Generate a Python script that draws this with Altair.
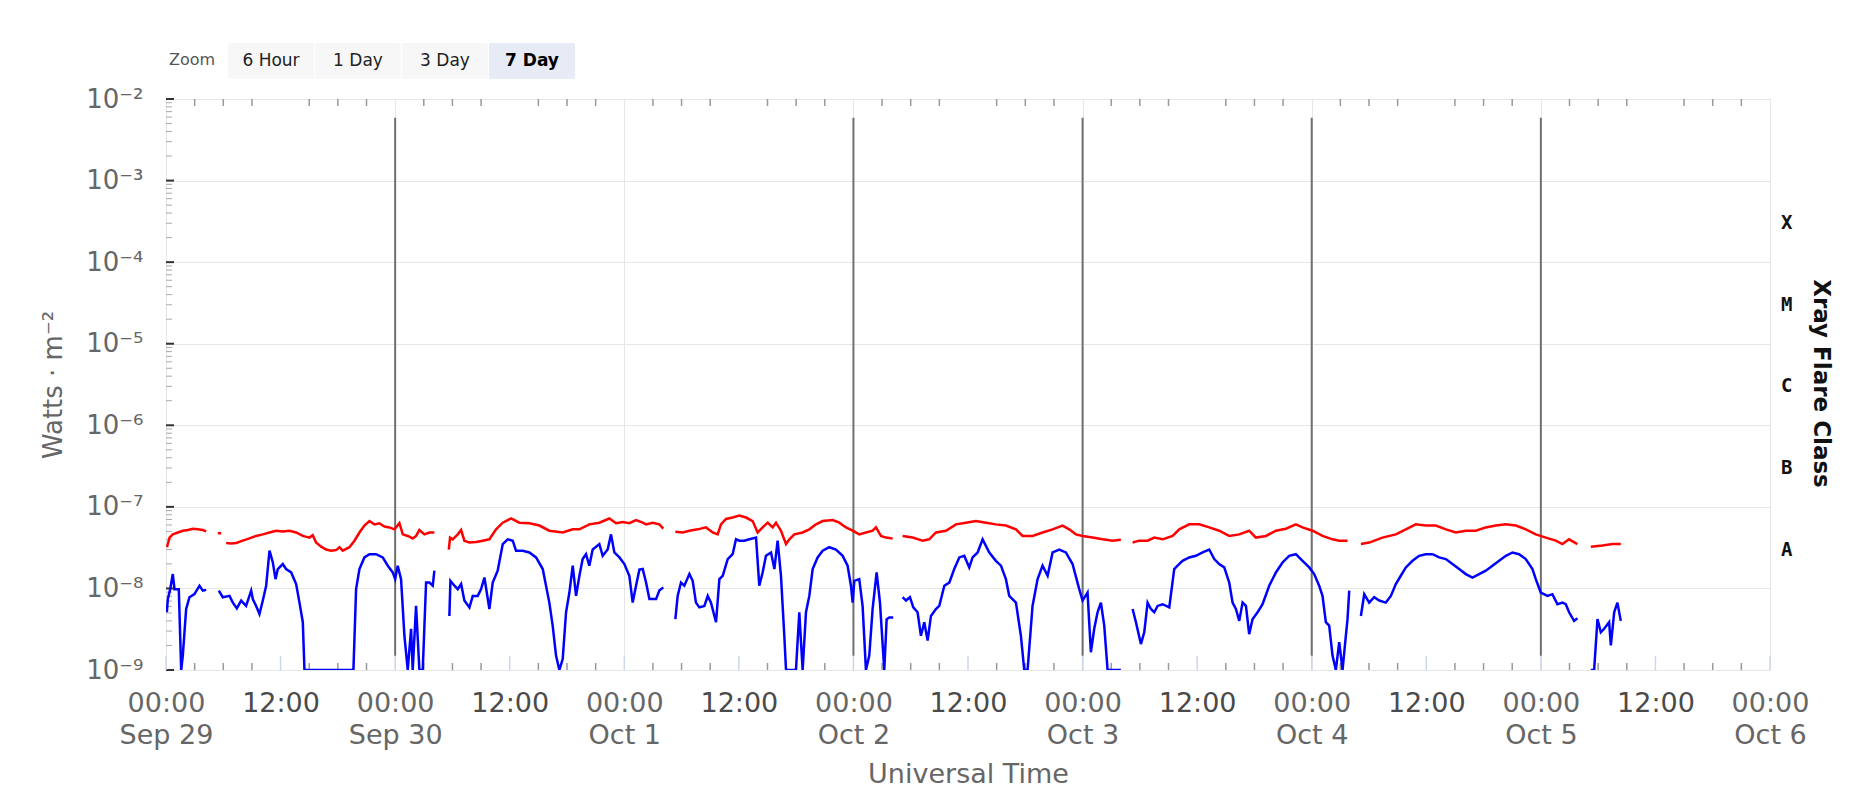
import altair as alt
import pandas as pd

# ---------------- data ----------------
# hours after 2023-09-29 00:00 UTC ; None marks a data gap
RED_HOURS = [0.1, 0.37, 0.71, 1.24, 1.76, 2.29, 2.81, 3.33, 3.86, 4.21, None,
             5.43, 5.78, None,
             6.30, 6.82, 7.35, 8.04, 8.74, 9.44, 10.14, 10.84, 11.54, 12.23, 12.93, 13.63, 14.33, 15.02, 15.37,
             15.72, 16.25, 16.77, 17.29, 17.82, 18.17, 18.51, 19.21, 19.74, 20.26, 20.78, 21.31, 21.83, 22.35,
             22.88, 23.40, 23.93, 24.45, 24.80, 25.32, 25.84, 26.19, 26.54, 27.07, 27.59, 28.11, None,
             29.62, 29.75, 30.03, 30.56, 30.91, 31.25, 31.78, 32.48, 33.17, 33.87, 34.57, 35.27, 36.14, 37.01,
             38.06, 39.11, 40.15, 41.55, 42.60, 43.30, 44.34, 45.39, 46.44, 47.14, 47.84, 48.53, 49.23, 49.93,
             50.28, 50.98, 51.67, 52.09, None,
             53.35, 54.12, 54.82, 55.69, 56.56, 57.26, 57.78, 58.13, 58.65, 59.35, 60.05, 60.75, 61.45, 61.97,
             62.49, 63.02, 63.54, 63.89, 64.41, 64.94, 65.29, 65.81, 66.68, 67.38, 68.08, 68.78, 69.82, 70.52,
             71.22, 71.92, 72.61, 73.31, 74.01, 74.36, 74.88, 75.41, 76.10, None,
             77.15, 78.20, 79.25, 79.94, 80.64, 81.69, 82.74, 83.78, 84.83, 85.88, 86.92, 87.97, 89.02, 89.72,
             90.76, 91.81, 92.86, 93.90, 94.60, 95.30, 96.0, 97.05, 98.09, 99.14, 100.01, None,
             101.24, 101.94, 102.81, 103.51, 104.38, 105.43, 106.13, 107.17, 108.22, 109.27, 110.31, 111.36,
             112.41, 113.45, 114.15, 115.20, 116.25, 117.29, 118.34, 119.04, 120.09, 121.13, 122.18, 122.88,
             123.75, None,
             125.15, 126.02, 127.41, 128.81, 129.86, 130.90, 131.95, 133.0, 134.05, 135.09, 136.14, 137.19,
             138.23, 139.28, 140.33, 141.38, 142.42, 143.47, 144.52, 145.56, 146.26, 146.96, 147.83, None,
             149.23, 150.45, 151.50, 152.37]
RED_FLUX = [3.2e-8, 4.2e-8, 4.6e-8, 4.85e-8, 5.1e-8, 5.2e-8, 5.4e-8, 5.3e-8, 5.2e-8, 5.0e-8, None,
            4.75e-8, 4.75e-8, None,
            3.6e-8, 3.55e-8, 3.6e-8, 3.85e-8, 4.1e-8, 4.4e-8, 4.6e-8, 4.85e-8, 5.1e-8, 5.0e-8, 5.1e-8, 4.85e-8,
            4.4e-8, 4.2e-8, 4.5e-8, 3.65e-8, 3.25e-8, 3.0e-8, 2.9e-8, 2.95e-8, 3.2e-8, 2.9e-8, 3.2e-8, 3.85e-8,
            4.85e-8, 5.9e-8, 6.7e-8, 6.1e-8, 6.3e-8, 5.75e-8, 5.6e-8, 5.3e-8, 6.3e-8, 4.6e-8, 4.4e-8, 4.1e-8,
            4.4e-8, 5.2e-8, 4.6e-8, 4.85e-8, 4.85e-8, None,
            3.0e-8, 4.2e-8, 4.0e-8, 4.6e-8, 5.2e-8, 3.85e-8, 3.65e-8, 3.7e-8, 3.85e-8, 4.0e-8, 5.3e-8, 6.4e-8,
            7.2e-8, 6.4e-8, 6.3e-8, 5.9e-8, 5.1e-8, 4.85e-8, 5.3e-8, 5.3e-8, 6.1e-8, 6.4e-8, 7.2e-8, 6.3e-8,
            6.5e-8, 6.3e-8, 6.9e-8, 6.4e-8, 6.1e-8, 6.4e-8, 6.1e-8, 5.4e-8, None,
            4.95e-8, 4.85e-8, 5.1e-8, 5.3e-8, 5.6e-8, 4.85e-8, 4.6e-8, 6.1e-8, 7.1e-8, 7.4e-8, 7.8e-8, 7.4e-8,
            6.7e-8, 4.85e-8, 5.6e-8, 6.4e-8, 5.6e-8, 6.4e-8, 5.1e-8, 3.5e-8, 4.0e-8, 4.6e-8, 4.85e-8, 5.3e-8,
            6.1e-8, 6.7e-8, 6.9e-8, 6.4e-8, 5.6e-8, 5.1e-8, 4.6e-8, 4.85e-8, 5.1e-8, 5.6e-8, 4.4e-8, 4.2e-8,
            4.1e-8, None,
            4.4e-8, 4.2e-8, 3.85e-8, 4.0e-8, 4.85e-8, 5.1e-8, 6.1e-8, 6.4e-8, 6.7e-8, 6.4e-8, 6.1e-8, 5.9e-8,
            5.3e-8, 4.4e-8, 4.4e-8, 4.85e-8, 5.3e-8, 5.9e-8, 5.3e-8, 4.6e-8, 4.4e-8, 4.2e-8, 4.0e-8, 3.85e-8,
            3.95e-8, None,
            3.65e-8, 3.85e-8, 3.85e-8, 4.2e-8, 4.0e-8, 4.4e-8, 5.3e-8, 6.1e-8, 6.1e-8, 5.6e-8, 5.1e-8, 4.4e-8,
            4.6e-8, 5.1e-8, 4.2e-8, 4.4e-8, 5.1e-8, 5.4e-8, 6.1e-8, 5.6e-8, 5.1e-8, 4.4e-8, 4.0e-8, 3.85e-8,
            3.85e-8, None,
            3.5e-8, 3.65e-8, 4.2e-8, 4.6e-8, 5.3e-8, 6.1e-8, 5.9e-8, 5.9e-8, 5.3e-8, 4.85e-8, 5.1e-8, 5.1e-8,
            5.6e-8, 5.9e-8, 6.1e-8, 5.9e-8, 5.3e-8, 4.6e-8, 4.2e-8, 3.85e-8, 3.5e-8, 4.0e-8, 3.5e-8, None,
            3.25e-8, 3.35e-8, 3.5e-8, 3.5e-8]

BLUE_HOURS = [0.09, 0.19, 0.44, 0.71, 0.89, 1.34, 1.59, 1.76, 2.11, 2.46, 2.98, 3.51, 3.86, 4.21, None,
              5.53, 5.95, 6.65, 7.0, 7.42, 7.87, 8.39, 8.92, 9.09, 9.44, 9.79, 10.14, 10.49, 10.84, 11.19,
              11.47, 11.71, 12.23, 12.58, 13.11, 13.63, 13.98, 14.33, 14.50, 19.63, 19.91, 20.26, 20.78, 21.31,
              22.0, 22.70, 23.23, 23.75, 24.0, 24.27, 24.62, 24.97, 25.32, 25.67, 25.84, 26.19, 26.54, 26.89,
              27.24, 27.59, 27.94, 28.11, None,
              29.68, 29.79, 30.21, 30.56, 30.91, 31.25, 31.78, 32.13, 32.65, 33.0, 33.35, 33.87, 34.22, 34.74,
              35.27, 35.79, 36.32, 36.66, 37.36, 38.06, 38.76, 39.46, 40.15, 40.50, 40.85, 41.20, 41.55, 41.90,
              42.25, 42.60, 42.95, 43.30, 43.64, 43.99, 44.34, 44.69, 45.39, 45.74, 46.26, 46.61, 46.96, 47.49,
              48.01, 48.53, 48.88, 49.23, 49.58, 49.93, 50.28, 50.63, 51.33, 51.67, 52.09, None,
              53.35, 53.59, 53.94, 54.29, 54.82, 55.16, 55.51, 55.86, 56.39, 56.74, 57.08, 57.61, 57.96, 58.31,
              58.83, 59.35, 59.70, 60.05, 60.57, 61.10, 61.80, 62.14, 62.49, 62.84, 63.37, 63.72, 64.06, 64.41,
              64.76, 64.94, 65.98, 66.33, 66.68, 67.03, 67.38, 67.73, 68.25, 68.78, 69.47, 70.17, 70.87, 71.39,
              71.74, 71.92, 72.09, 72.61, 72.96, 73.31, 73.66, 74.01, 74.43, 74.78, 75.23, 75.48, 75.76, 76.17,
              None,
              77.15, 77.50, 77.92, 78.27, 78.72, 79.07, 79.42, 79.77, 80.12, 80.64, 80.99, 81.52, 82.04, 82.56,
              83.09, 83.61, 84.13, 84.48, 85.01, 85.53, 86.23, 86.92, 87.45, 87.97, 88.32, 89.02, 89.54, 89.89,
              90.24, 90.76, 91.29, 91.81, 92.34, 92.86, 93.56, 94.25, 94.95, 95.65, 96.0, 96.52, 96.87, 97.22,
              97.57, 97.92, 98.27, 98.62, 100.01, None,
              101.24, 101.59, 102.11, 102.46, 102.81, 103.16, 103.51, 103.86, 104.38, 105.08, 105.60, 105.95,
              106.47, 107.17, 107.87, 108.57, 109.27, 109.79, 110.31, 110.84, 111.36, 111.71, 112.06, 112.41,
              112.76, 113.11, 113.45, 113.80, 114.33, 114.85, 115.55, 116.25, 116.94, 117.64, 118.34, 119.04,
              119.74, 120.26, 120.78, 121.13, 121.48, 121.83, 122.18, 122.53, 122.88, 123.23, 123.51, 123.75,
              123.93, None,
              125.15, 125.50, 126.02, 126.54, 127.07, 127.76, 128.29, 128.81, 129.33, 129.86, 130.56, 131.25,
              131.95, 132.65, 133.35, 134.05, 134.74, 135.44, 136.14, 136.84, 137.54, 138.23, 138.93, 139.63,
              140.33, 141.03, 141.72, 142.42, 143.12, 143.47, 143.99, 144.69, 145.21, 145.74, 146.26, 146.61,
              146.96, 147.48, 147.83, None,
              149.23, 149.58, 149.93, 150.28, 150.63, 151.15, 151.33, 151.68, 152.02, 152.37]
BLUE_FLUX = [5.1e-9, 7.4e-9, 9.8e-9, 1.5e-8, 9.8e-9, 9.8e-9, 1.0e-9, 1.5e-9, 5.6e-9, 7.8e-9, 8.5e-9, 1.08e-8,
             9.4e-9, 9.6e-9, None,
             9.4e-9, 7.8e-9, 8.1e-9, 6.7e-9, 5.7e-9, 7.1e-9, 6.1e-9, 9.4e-9, 7.4e-9, 6.1e-9, 4.85e-9, 7.1e-9,
             1.08e-8, 2.9e-8, 2.08e-8, 1.3e-8, 1.73e-8, 1.99e-8, 1.73e-8, 1.57e-8, 1.13e-8, 6.7e-9, 3.85e-9,
             1.0e-9, 1.0e-9, 9.8e-9, 1.73e-8, 2.4e-8, 2.63e-8, 2.63e-8, 2.4e-8, 1.9e-8, 1.57e-8, 1.3e-8, 1.9e-8,
             1.3e-8, 2.63e-9, 1.0e-9, 3.2e-9, 1.0e-9, 6.1e-9, 1.0e-9, 1.0e-9, 1.18e-8, 1.18e-8, 1.08e-8,
             1.65e-8, None,
             4.6e-9, 1.24e-8, 1.08e-8, 9.8e-9, 1.13e-8, 7.1e-9, 5.85e-9, 8.1e-9, 8.1e-9, 9.8e-9, 1.36e-8,
             5.6e-9, 1.18e-8, 1.65e-8, 3.5e-8, 4.0e-8, 3.85e-8, 2.9e-8, 2.9e-8, 2.76e-8, 2.4e-8, 1.73e-8,
             6.7e-9, 3.5e-9, 1.5e-9, 1.0e-9, 1.36e-9, 5.1e-9, 8.9e-9, 1.9e-8, 8.1e-9, 1.43e-8, 2.29e-8,
             2.63e-8, 1.9e-8, 3.0e-8, 3.5e-8, 2.51e-8, 3.0e-8, 4.6e-8, 2.76e-8, 2.4e-8, 1.99e-8, 1.43e-8,
             6.7e-9, 1.08e-8, 1.7e-8, 1.73e-8, 1.18e-8, 7.4e-9, 7.4e-9, 9.4e-9, 1.03e-8, None,
             4.2e-9, 8.1e-9, 1.18e-8, 1.08e-8, 1.5e-8, 1.24e-8, 6.7e-9, 5.85e-9, 6.1e-9, 8.1e-9, 6.7e-9,
             3.85e-9, 1.3e-8, 1.43e-8, 2.29e-8, 2.63e-8, 4.0e-8, 3.85e-8, 3.85e-8, 4.0e-8, 4.2e-8, 1.08e-8,
             1.57e-8, 2.51e-8, 2.76e-8, 1.73e-8, 3.85e-8, 1.43e-8, 2.63e-9, 1.0e-9, 1.0e-9, 5.1e-9, 1.0e-9,
             5.1e-9, 8.1e-9, 1.73e-8, 2.4e-8, 2.9e-8, 3.2e-8, 3.0e-8, 2.51e-8, 1.9e-8, 1.08e-8, 6.7e-9,
             1.24e-8, 1.3e-8, 6.1e-9, 1.0e-9, 1.5e-9, 5.6e-9, 1.57e-8, 6.7e-9, 1.0e-9, 4.2e-9, 4.4e-9, 4.4e-9,
             None,
             7.8e-9, 7.1e-9, 7.8e-9, 5.85e-9, 5.1e-9, 2.63e-9, 3.85e-9, 2.29e-9, 4.6e-9, 5.6e-9, 6.1e-9,
             1.08e-8, 1.18e-8, 1.73e-8, 2.4e-8, 2.51e-8, 1.81e-8, 2.4e-8, 2.76e-8, 4.0e-8, 2.76e-8, 2.18e-8,
             1.9e-8, 1.3e-8, 8.1e-9, 6.7e-9, 2.63e-9, 1.0e-9, 1.0e-9, 6.1e-9, 1.3e-8, 1.9e-8, 1.43e-8, 2.76e-8,
             3.0e-8, 2.76e-8, 1.99e-8, 9.8e-9, 7.1e-9, 8.9e-9, 1.65e-9, 3.2e-9, 5.1e-9, 6.7e-9, 3.5e-9, 1.0e-9,
             1.0e-9, None,
             5.6e-9, 3.85e-9, 2.08e-9, 2.9e-9, 6.7e-9, 5.6e-9, 5.1e-9, 6.1e-9, 6.4e-9, 5.85e-9, 1.73e-8,
             1.9e-8, 2.18e-8, 2.4e-8, 2.51e-8, 2.76e-8, 3.0e-8, 2.29e-8, 1.99e-8, 1.81e-8, 1.18e-8, 6.7e-9,
             5.6e-9, 4.0e-9, 6.7e-9, 6.1e-9, 2.75e-9, 4.2e-9, 5.1e-9, 6.4e-9, 1.08e-8, 1.57e-8, 2.08e-8,
             2.51e-8, 2.63e-8, 2.18e-8, 1.81e-8, 1.5e-8, 1.08e-8, 8.1e-9, 3.85e-9, 3.5e-9, 1.5e-9, 1.0e-9,
             2.2e-9, 1.0e-9, 2.2e-9, 4.2e-9, 9.4e-9, None,
             4.6e-9, 8.5e-9, 6.7e-9, 7.8e-9, 7.1e-9, 6.7e-9, 8.1e-9, 1.13e-8, 1.43e-8, 1.81e-8, 2.18e-8,
             2.51e-8, 2.63e-8, 2.63e-8, 2.4e-8, 2.29e-8, 1.99e-8, 1.73e-8, 1.5e-8, 1.36e-8, 1.5e-8, 1.65e-8,
             1.9e-8, 2.18e-8, 2.51e-8, 2.76e-8, 2.63e-8, 2.29e-8, 1.73e-8, 1.3e-8, 8.9e-9, 8.1e-9, 8.5e-9,
             6.4e-9, 6.7e-9, 6.4e-9, 5.1e-9, 4.0e-9, 4.3e-9, None,
             1.0e-9, 1.0e-9, 4.2e-9, 2.9e-9, 3.2e-9, 3.85e-9, 2.0e-9, 5.1e-9, 6.7e-9, 4.0e-9]

MARKER_HOURS = [24, 72, 96, 120, 144]          # dark vertical lines
MARKER_TOP, MARKER_BOTTOM = 5.9e-3, 1.5e-9
CLASS_LABELS = ["X", "M", "C", "B", "A"]
CLASS_LEVELS = [3.0e-4, 3.0e-5, 3.0e-6, 3.0e-7, 3.0e-8]
DECADES = [1e-9, 1e-8, 1e-7, 1e-6, 1e-5, 1e-4, 1e-3, 1e-2]
BUTTONS = ["6 Hour", "1 Day", "3 Day", "7 Day"]
SELECTED = "7 Day"

# ---------------- helpers ----------------
HOUR_MS = 3600000
START_MS = int(pd.Timestamp("2023-09-29T00:00:00Z").value // 10**6)
END_MS = START_MS + 7 * 24 * HOUR_MS


def build(hours, flux, name):
    rows, seg = [], 0
    for h, f in zip(hours, flux):
        if h is None:
            seg += 1
            continue
        rows.append({"t": START_MS + h * HOUR_MS, "flux": f, "seg": f"{name}{seg}"})
    return pd.DataFrame(rows)


red_df = build(RED_HOURS, RED_FLUX, "r")
blue_df = build(BLUE_HOURS, BLUE_FLUX, "b")

W, H = 1604, 571
FONT = "DejaVu Sans"

xscale = alt.Scale(type="utc", domain=[START_MS, END_MS], nice=False)
yscale = alt.Scale(type="log", domain=[1e-9, 1e-2], nice=False)

label_vals = [START_MS + i * 12 * HOUR_MS for i in range(15)]

x_axis = alt.Axis(
    values=label_vals,
    labelExpr="utchours(datum.value) == 0 ? [utcFormat(datum.value, '%H:%M'), utcFormat(datum.value, '%b %-d')] : utcFormat(datum.value, '%H:%M')",
    grid=True,
    gridColor={"condition": {"test": "utchours(datum.value) == 0", "value": "#e6e6e6"}, "value": "rgba(0,0,0,0)"},
    ticks=False, tickSize=0, domain=False,
    labelFont=FONT, labelFontSize=27,
    labelColor={"condition": {"test": "utchours(datum.value) == 12", "value": "#4a4a4a"}, "value": "#666666"},
    labelPadding=20, labelLineHeight=32, labelBaseline="top",
    labelFlush=False, labelOverlap=False, labelBound=False,
    title="Universal Time", titleFont=FONT, titleFontSize=27, titleColor="#666666",
    titleFontWeight="normal", titleX=W / 2, titleY=104, titleBaseline="middle", titleAlign="center",
)

y_axis = alt.Axis(
    values=DECADES,
    labelExpr="'10\u207b' + ['\u2070','\u00b9','\u00b2','\u00b3','\u2074','\u2075','\u2076','\u2077','\u2078','\u2079'][round(-log(datum.value)/LN10)]",
    grid=True, gridColor="#e6e6e6",
    ticks=False, tickSize=0, domain=False,
    labelFont=FONT, labelFontSize=26, labelColor="#666666", labelPadding=23,
    labelBaseline="middle", labelFlush=False, labelOverlap=False, labelBound=False,
    title="Watts \u00b7 m\u207b\u00b2", titleFont=FONT, titleFontSize=26, titleColor="#666666",
    titleFontWeight="normal", titleAngle=-90, titleX=-113, titleY=H / 2, titleAlign="center",
    titleBaseline="middle",
)

red = alt.Chart(red_df).mark_line(color="#ff0000", strokeWidth=2.5, clip=True).encode(
    x=alt.X("t:T", scale=xscale, axis=x_axis),
    y=alt.Y("flux:Q", scale=yscale, axis=y_axis),
    detail="seg:N",
)
blue = alt.Chart(blue_df).mark_line(color="#0000ff", strokeWidth=2.5, clip=True).encode(
    x=alt.X("t:T", scale=xscale),
    y=alt.Y("flux:Q", scale=yscale),
    detail="seg:N",
)

marker_df = pd.DataFrame({"t": [START_MS + h * HOUR_MS for h in MARKER_HOURS],
                          "top": MARKER_TOP, "bottom": MARKER_BOTTOM})
markers = alt.Chart(marker_df).mark_rule(color="#707070", strokeWidth=2).encode(
    x=alt.X("t:T", scale=xscale), y=alt.Y("top:Q", scale=yscale), y2="bottom:Q")

# ticks (drawn inward, like the original)
minor_x = pd.DataFrame({"t": [START_MS + h * HOUR_MS for h in range(3, 168, 3) if h % 12]})
major_x = pd.DataFrame({"t": label_vals})
tick_bottom_minor = alt.Chart(minor_x).mark_rule(color="#999999", strokeWidth=1.5).encode(
    x=alt.X("t:T", scale=xscale), y=alt.value(H - 7), y2=alt.value(H))
tick_top_minor = alt.Chart(minor_x).mark_rule(color="#999999", strokeWidth=1.5).encode(
    x=alt.X("t:T", scale=xscale), y=alt.value(0), y2=alt.value(7))
tick_bottom_major = alt.Chart(major_x).mark_rule(color="#ccd6eb", strokeWidth=1.5).encode(
    x=alt.X("t:T", scale=xscale), y=alt.value(H - 14), y2=alt.value(H))

minor_y = pd.DataFrame({"v": [m * 10.0 ** e for e in range(-9, -2) for m in range(2, 10)]})
major_y = pd.DataFrame({"v": DECADES})
tick_left_minor = alt.Chart(minor_y).mark_rule(color="#aaaaaa", strokeWidth=1).encode(
    y=alt.Y("v:Q", scale=yscale), x=alt.value(0), x2=alt.value(6))
tick_left_major = alt.Chart(major_y).mark_rule(color="#333333", strokeWidth=2).encode(
    y=alt.Y("v:Q", scale=yscale), x=alt.value(0), x2=alt.value(8))

class_df = pd.DataFrame({"label": CLASS_LABELS, "v": CLASS_LEVELS})
classes = alt.Chart(class_df).mark_text(
    align="left", baseline="middle", font="DejaVu Sans Mono", fontSize=19, fontWeight="bold", color="#111111"
).encode(y=alt.Y("v:Q", scale=yscale), x=alt.value(W + 11), text="label:N")

right_title = alt.Chart(pd.DataFrame({"txt": ["Xray Flare Class"]})).mark_text(
    angle=90, align="center", baseline="middle", font=FONT, fontSize=23, fontWeight="bold", color="#111111"
).encode(x=alt.value(W + 51), y=alt.value(H / 2 - 1), text="txt:N")

# range-selector buttons
ui_layers = []
ui_layers.append(
    alt.Chart(pd.DataFrame({"txt": ["Zoom"]})).mark_text(
        align="left", baseline="middle", font=FONT, fontSize=16, color="#555555"
    ).encode(x=alt.value(3), y=alt.value(-39), text="txt:N")
)
for i, b in enumerate(BUTTONS):
    x0 = 62 + i * 87
    sel = b == SELECTED
    ui_layers.append(
        alt.Chart(pd.DataFrame({"txt": [b]})).mark_rect(
            color="#e6ebf5" if sel else "#f7f7f7", cornerRadius=2
        ).encode(x=alt.value(x0), x2=alt.value(x0 + 86), y=alt.value(-56), y2=alt.value(-20))
    )
    ui_layers.append(
        alt.Chart(pd.DataFrame({"txt": [b]})).mark_text(
            align="center", baseline="middle", font=FONT, fontSize=17,
            fontWeight="bold" if sel else "normal", color="#000000" if sel else "#222222"
        ).encode(x=alt.value(x0 + 43), y=alt.value(-38), text="txt:N")
    )

chart = alt.layer(
    tick_left_minor, tick_left_major, tick_bottom_minor, tick_top_minor, tick_bottom_major,
    markers, red, blue, classes, right_title, *ui_layers
).properties(
    width=W, height=H,
    padding={"left": 158, "top": 91, "right": 68, "bottom": 120},
    autosize=alt.AutoSizeParams(type="none"),
    background="white",
).configure_view(stroke="#ccd6eb", strokeWidth=1)

chart.save("out.html", embed_options={"renderer": "svg", "actions": False})
